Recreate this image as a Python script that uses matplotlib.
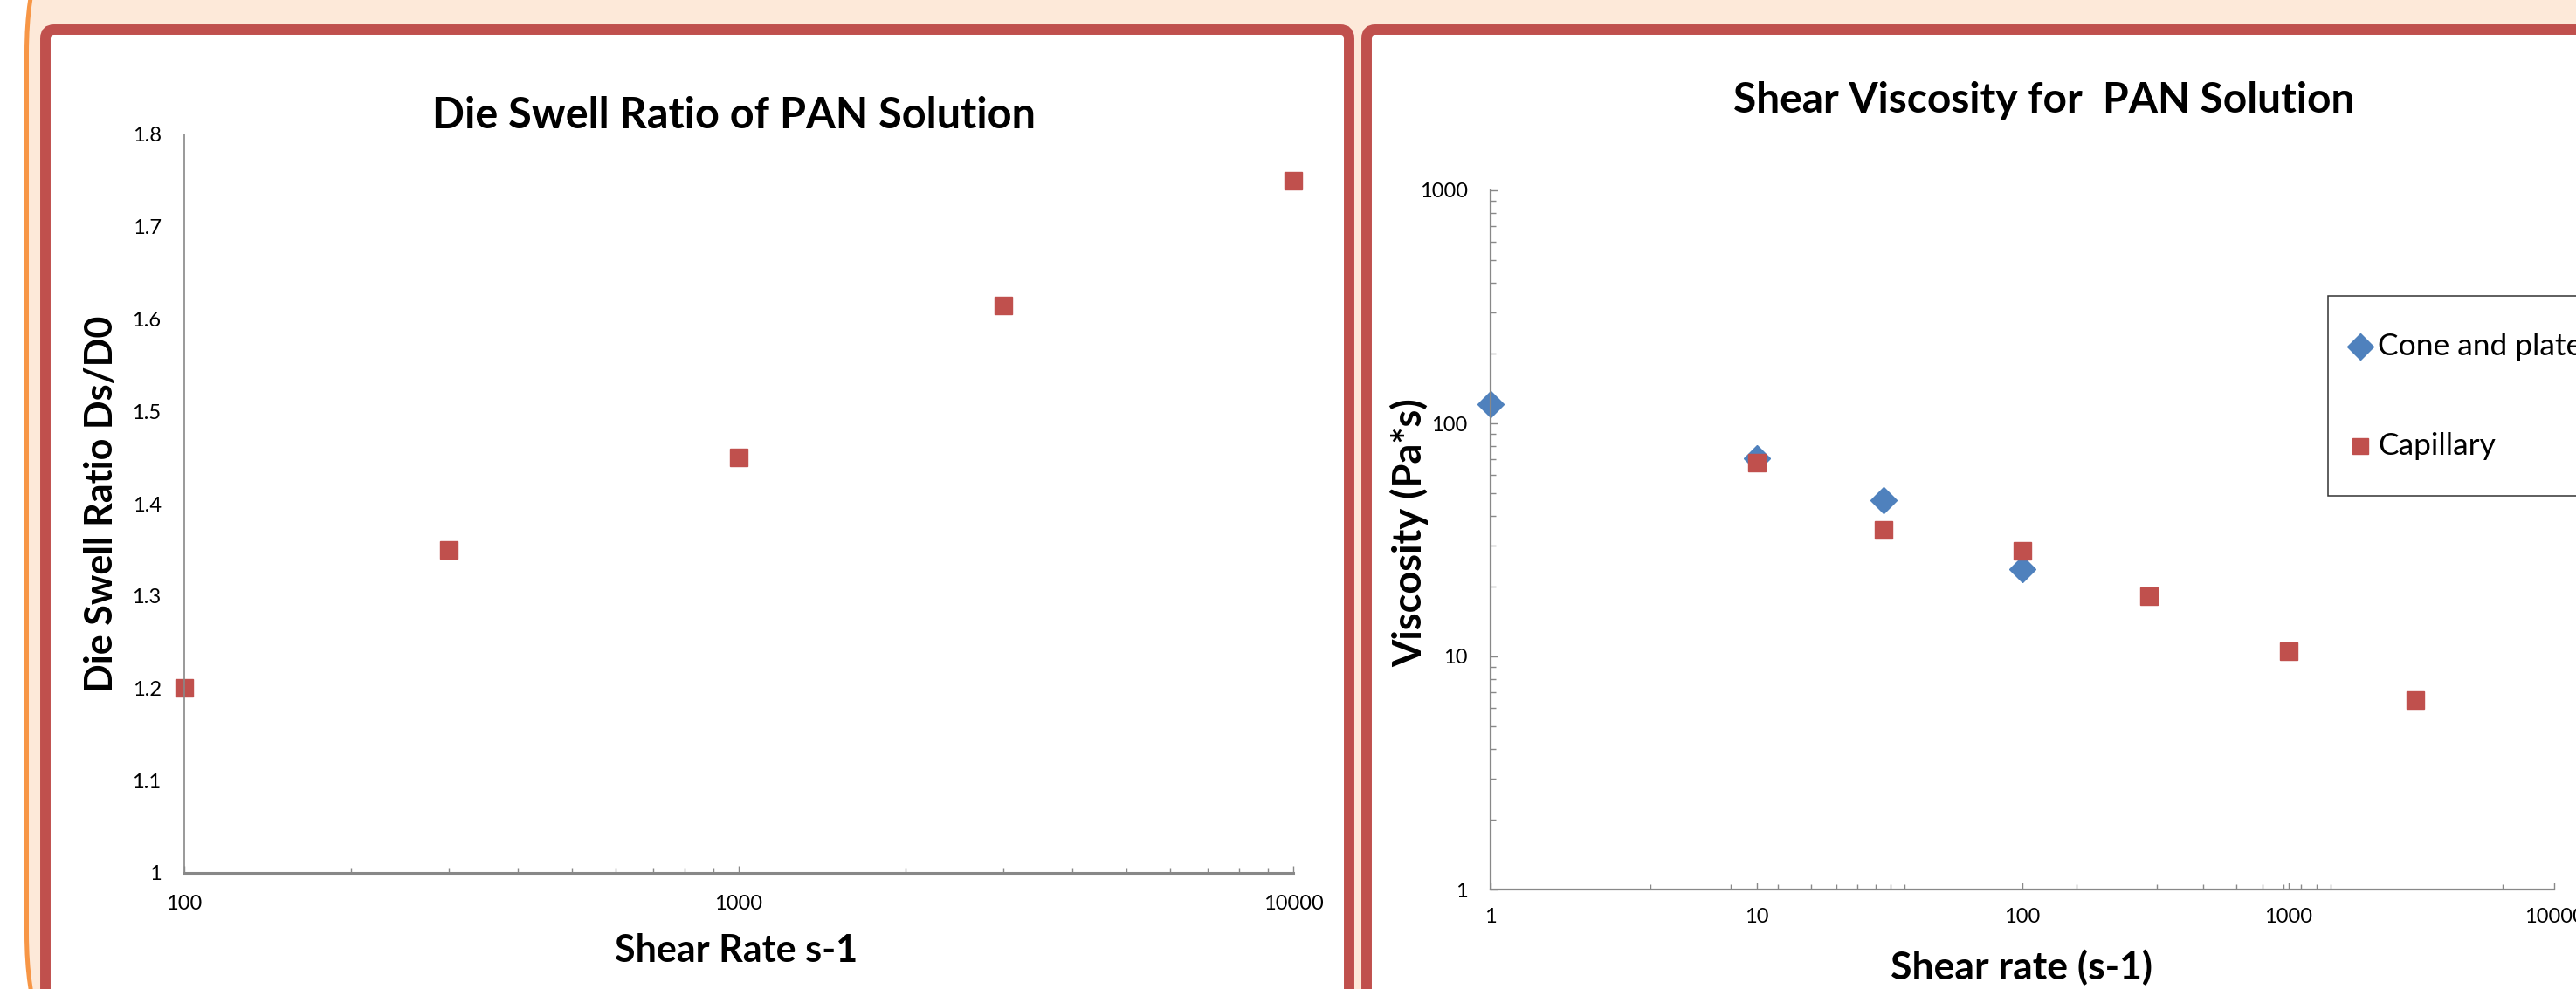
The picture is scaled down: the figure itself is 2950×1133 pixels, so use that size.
import matplotlib
matplotlib.use("Agg")
import matplotlib.pyplot as plt
from matplotlib.patches import FancyBboxPatch, Rectangle
from matplotlib.lines import Line2D
from matplotlib.transforms import IdentityTransform
from matplotlib.ticker import FixedLocator, NullFormatter

# Data
die_rate = [100, 300, 1000, 3000, 10000]
die_swell = [1.2, 1.35, 1.45, 1.615, 1.75]

cone_rate = [1, 10, 30, 100]
cone_visc = [121, 71, 47, 23.7]
cap_rate = [10, 30, 100, 300, 1000, 3000]
cap_visc = [68, 35, 28.4, 18.1, 10.5, 6.5]

left_yticks = [1, 1.1, 1.2, 1.3, 1.4, 1.5, 1.6, 1.7, 1.8]
left_ylabels = ["1", "1.1", "1.2", "1.3", "1.4", "1.5", "1.6", "1.7", "1.8"]
decade_ticks = [1, 10, 100, 1000, 10000]
decade_labels = ["1", "10", "100", "1000", "10000"]

RED = "#C0504D"
BLUE = "#4F81BD"
AXIS = "#888888"
PEACH = "#FDE9D9"
ORANGE = "#F79646"

W, H, DPI = 2950, 1133, 100
plt.rcParams["font.family"] = ["Lato", "DejaVu Sans"]

fig = plt.figure(figsize=(W / DPI, H / DPI), dpi=DPI)
fig.patch.set_facecolor("white")


def box(x0, x1, y_top, y_bot):
    # pixel box (image coords, y down) -> figure fraction [l, b, w, h]
    return [x0 / W, (H - y_bot) / H, (x1 - x0) / W, (y_bot - y_top) / H]


def pix(x, y):
    return x, H - y


# slide background: peach rounded frame with orange edge
bg = FancyBboxPatch(pix(30.5, 1320), 3200, 1510,
                    boxstyle="round,pad=0,rounding_size=250",
                    transform=IdentityTransform(), facecolor=PEACH,
                    edgecolor=ORANGE, linewidth=3.6, zorder=-10)
fig.add_artist(bg)

# the two red-framed white panels
for x0, x1 in [(52, 1545), (1565, 3300)]:
    p = FancyBboxPatch(pix(x0, 1300), x1 - x0, 1300 - 34,
                       boxstyle="round,pad=0,rounding_size=10",
                       transform=IdentityTransform(), facecolor="white",
                       edgecolor=RED, linewidth=8.6, zorder=-9)
    fig.add_artist(p)

# ---------------- left chart: die swell ----------------
ax1 = fig.add_axes(box(211, 1481, 154, 1000))
ax1.patch.set_alpha(0)
ax1.plot(die_rate, die_swell, linestyle="none", marker="s", markersize=14.5,
         color=RED, markeredgecolor=RED, clip_on=False)
ax1.set_xscale("log")
ax1.set_xlim(100, 10000)
ax1.set_ylim(1, 1.8)
ax1.set_yticks(left_yticks)
ax1.set_yticklabels(left_ylabels)
ax1.set_xticks([100, 1000, 10000])
ax1.set_xticklabels(["100", "1000", "10000"])
ax1.xaxis.set_minor_locator(FixedLocator(
    [m * d for d in (100, 1000) for m in range(2, 10)]))
ax1.xaxis.set_minor_formatter(NullFormatter())
for s in ["top", "right"]:
    ax1.spines[s].set_visible(False)
ax1.spines["bottom"].set_color(AXIS)
ax1.spines["bottom"].set_linewidth(2.2)
ax1.spines["left"].set_color(AXIS)
ax1.spines["left"].set_linewidth(1.2)
ax1.tick_params(axis="x", which="major", direction="in", length=6,
                width=1, color=AXIS, labelsize=17, pad=18)
ax1.tick_params(axis="x", which="minor", direction="in", length=4.5,
                width=1, color=AXIS)
ax1.tick_params(axis="y", length=0, labelsize=17, pad=19)

ax1.set_title("Die Swell Ratio of PAN Solution", fontsize=35,
              fontweight="bold", x=0.496, y=1.026, va="center", pad=0)
ax1.set_xlabel("Shear Rate s-1", fontsize=31, fontweight="bold",
               va="center", ha="center")
ax1.xaxis.set_label_coords(0.498, -0.105)
ax1.set_ylabel("Die Swell Ratio Ds/D0", fontsize=31, fontweight="bold",
               va="center", ha="center")
ax1.yaxis.set_label_coords(-0.075, 0.5)

# ---------------- right chart: shear viscosity ----------------
ax2 = fig.add_axes(box(1707, 2925, 218, 1019))
ax2.patch.set_alpha(0)
ax2.plot(cone_rate, cone_visc, linestyle="none", marker="D", markersize=15,
         color=BLUE, markeredgecolor=BLUE, clip_on=False, label="Cone and plate")
ax2.plot(cap_rate, cap_visc, linestyle="none", marker="s", markersize=14.5,
         color=RED, markeredgecolor=RED, clip_on=False, label="Capillary")
ax2.set_xscale("log")
ax2.set_yscale("log")
ax2.set_xlim(1, 10000)
ax2.set_ylim(1, 1000)
ax2.set_xticks(decade_ticks)
ax2.set_xticklabels(decade_labels)
ax2.set_yticks(decade_ticks[:4])
ax2.set_yticklabels(decade_labels[:4])
# Excel drew the minor ticks of this axis at odd spots; keep them as seen
ax2.xaxis.set_minor_locator(FixedLocator(
    [4, 8, 12, 16, 20, 24, 28, 32, 36, 160, 320, 480, 640, 800, 960,
     1120, 1280, 1440, 6400]))
ax2.xaxis.set_minor_formatter(NullFormatter())
ax2.yaxis.set_minor_locator(FixedLocator(
    [m * d for d in (1, 10, 100) for m in range(2, 10)]))
ax2.yaxis.set_minor_formatter(NullFormatter())
for s in ["top", "right"]:
    ax2.spines[s].set_visible(False)
for s in ["bottom", "left"]:
    ax2.spines[s].set_color(AXIS)
    ax2.spines[s].set_linewidth(1.6)
ax2.tick_params(which="major", direction="in", length=6, width=1,
                color=AXIS, labelsize=17)
ax2.tick_params(which="minor", direction="in", length=4, width=1, color=AXIS)
ax2.tick_params(axis="x", which="major", pad=15)
ax2.tick_params(axis="y", which="major", pad=19)

ax2.set_title("Shear Viscosity for  PAN Solution", fontsize=34.5,
              fontweight="bold", x=0.52, y=1.129, va="center", pad=0)
ax2.set_xlabel("Shear rate (s-1)", fontsize=32, fontweight="bold",
               va="center", ha="center")
ax2.xaxis.set_label_coords(0.499, -0.111)
ax2.set_ylabel("Viscosity (Pa*s)", fontsize=32.5, fontweight="bold",
               va="center", ha="center")
ax2.yaxis.set_label_coords(-0.0764, 0.51)

# legend box, drawn by hand so it can run past the slide edge like the original
fig.add_artist(Rectangle(pix(2666, 568), 400, 229, transform=IdentityTransform(),
                         facecolor="white", edgecolor="#333333", linewidth=1.1,
                         zorder=5))
for line, y in zip(ax2.get_lines(), [397, 511]):
    size = line.get_markersize()
    if line.get_marker() == "s":
        size *= 0.85
    mk = Line2D([2703], [H - y], transform=IdentityTransform(),
                linestyle="none", marker=line.get_marker(), markersize=size,
                color=line.get_color(), markeredgecolor=line.get_color(),
                zorder=6)
    fig.add_artist(mk)
    fig.text(2723 / W, (H - y) / H, line.get_label(), fontsize=25.5,
             va="center", ha="left", zorder=6)

fig.savefig("out.png", dpi=DPI, facecolor="white")
